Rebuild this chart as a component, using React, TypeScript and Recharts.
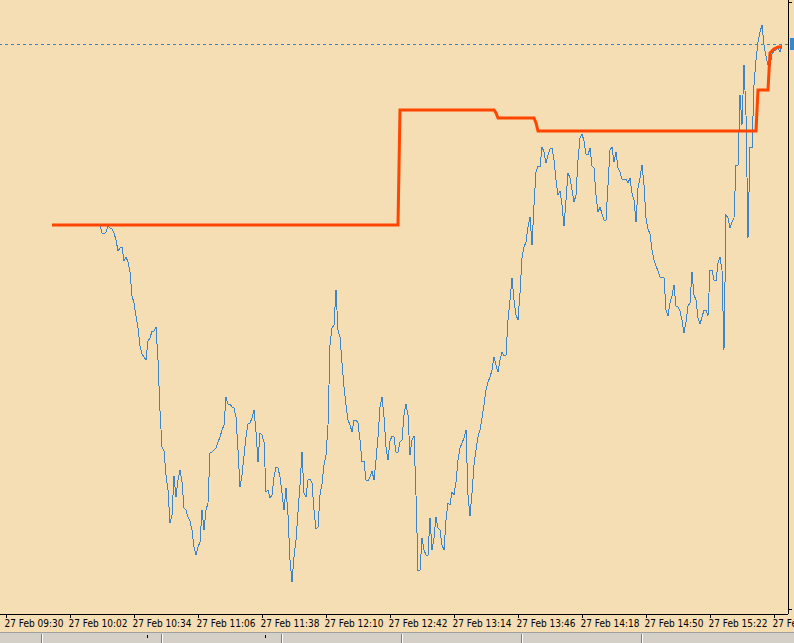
import { LineChart, Line, XAxis, YAxis, ReferenceLine } from "recharts"

// MT4-style M1 chart: close line plus a stepped signal line
const BG = "#F5DEB3"
const CLOSE_COLOR = "#3d85c6"
const SIGNAL_COLOR = "#FF4500"

// x axis: one row per minute since 09:30, a label every 32 minutes
const tickLabels = [
  "27 Feb 09:30", "27 Feb 10:02", "27 Feb 10:34", "27 Feb 11:06", "27 Feb 11:38",
  "27 Feb 12:10", "27 Feb 12:42", "27 Feb 13:14", "27 Feb 13:46", "27 Feb 14:18",
  "27 Feb 14:50", "27 Feb 15:22", "27 Feb 15:54",
]
const tickStep = 32

// close prices (level units), one per minute starting at minute 47
const closeStart = 47
const closeValues = [
  389, 381, 380, 382, 388, 386, 385, 381, 374, 363,
  366, 367, 353, 357, 352, 342, 318, 311, 298, 286,
  268, 260, 257, 254, 273, 276, 283, 283, 287, 254,
  203, 167, 163, 139, 124, 91, 99, 138, 117, 134,
  144, 132, 106, 104, 97, 93, 84, 67, 59, 67,
  72, 104, 84, 104, 111, 161, 162, 164, 166, 172,
  177, 184, 189, 217, 210, 210, 207, 206, 197, 164,
  127, 139, 158, 177, 190, 191, 196, 204, 182, 152,
  181, 179, 172, 122, 124, 116, 119, 137, 147, 146,
  137, 121, 104, 126, 99, 54, 32, 57, 74, 102,
  129, 162, 121, 117, 134, 135, 131, 104, 85, 87,
  119, 130, 149, 159, 189, 269, 286, 289, 324, 284,
  277, 251, 227, 209, 194, 189, 182, 194, 194, 191,
  174, 152, 153, 134, 133, 137, 143, 134, 154, 177,
  207, 217, 197, 167, 154, 173, 178, 177, 162, 162,
  172, 174, 199, 210, 199, 159, 174, 178, 119, 44,
  44, 76, 64, 59, 59, 96, 64, 76, 97, 86,
  84, 69, 64, 94, 111, 109, 122, 119, 132, 154,
  166, 171, 176, 184, 119, 98, 121, 149, 164, 177,
  184, 196, 209, 224, 232, 237, 244, 257, 249, 242,
  254, 262, 258, 259, 294, 314, 336, 314, 299, 294,
  321, 356, 367, 372, 387, 397, 369, 409, 442, 448,
  447, 467, 462, 451, 459, 465, 466, 454, 434, 419,
  423, 409, 388, 414, 441, 436, 424, 412, 419, 454,
  476, 480, 473, 460, 459, 466, 448, 446, 419, 402,
  407, 400, 394, 394, 429, 464, 467, 452, 462, 446,
  442, 435, 434, 435, 431, 436, 421, 414, 392, 426,
  436, 449, 429, 396, 385, 380, 364, 354, 348, 343,
  337, 337, 336, 304, 298, 311, 318, 329, 308, 307,
  303, 294, 281, 292, 308, 311, 342, 319, 314, 296,
  290, 297, 304, 304, 298, 344, 344, 334, 333, 351,
  357, 344, 264, 399, 396, 386, 392, 396, 449, 449,
  519, 489, 549, 499, 376, 467, 466, 529, 554, 572,
  582, 589, 569, 558, 549, 548, 560, 563, 564, 566,
  562, 569,
]

// signal line: level changes (minute where each level starts)
const signalFrom = [23, 197, 245, 246, 265, 266, 376, 382, 383, 384, 385, 386]
const signalLevel = [389, 504, 501, 496, 491, 483, 524, 561, 563, 565, 566, 567]
const signalEnd = 388

const lastPrice = 570

function buildRows() {
  const rows: { m: number; close: number | null; signal: number | null }[] = []
  const last = Math.max(closeStart + closeValues.length - 1, signalEnd)
  for (let m = signalFrom[0]; m <= last; m++) {
    const ci = m - closeStart
    let signal: number | null = null
    if (m <= signalEnd) {
      for (let k = 0; k < signalFrom.length; k++) {
        if (m >= signalFrom[k]) signal = signalLevel[k]
      }
    }
    rows.push({
      m,
      close: ci >= 0 && ci < closeValues.length ? closeValues[ci] : null,
      signal,
    })
  }
  return rows
}

const data = buildRows()
const ticks = tickLabels.map((_, i) => i * tickStep)

const XTick = (props: any) => {
  const { x, y, payload } = props
  const label = tickLabels[Math.round(payload.value / tickStep)]
  return (
    <text
      x={x - 1.5}
      y={y}
      dy="0.72em"
      textAnchor="start"
      fontSize={10}
      fontFamily="'DejaVu Sans Condensed', 'Liberation Sans', Arial, sans-serif"
      fill="#000"
    >
      {label}
    </text>
  )
}

const PriceTag = (props: any) => {
  const vb = props.viewBox || {}
  return <rect x={vb.x + vb.width + 2} y={vb.y - 6} width={6} height={12} fill={CLOSE_COLOR} />
}

const tabSeparators = [41, 161, 281, 401, 521, 641]
const tabMarks = [147, 265]

export default function App() {
  return (
    <div style={{ position: "absolute", left: 0, top: 0, width: 794, height: 643, background: BG, overflow: "hidden" }}>
      <LineChart width={794} height={632} data={data} margin={{ top: 0, right: 0, bottom: 0, left: 0 }}>
        <XAxis
          dataKey="m"
          type="number"
          domain={[-3, 391]}
          ticks={ticks}
          interval={0}
          height={18}
          axisLine={{ stroke: "#000", shapeRendering: "crispEdges" }}
          tickLine={{ stroke: "#000", shapeRendering: "crispEdges" }}
          tickSize={4}
          tick={<XTick />}
        />
        <YAxis
          orientation="right"
          type="number"
          domain={[0, 614]}
          ticks={[5, 612]}
          width={6}
          axisLine={{ stroke: "#000", shapeRendering: "crispEdges" }}
          tickLine={{ stroke: "#000", shapeRendering: "crispEdges" }}
          tickSize={4}
          tick={() => <g />}
        />
        <ReferenceLine
          y={lastPrice}
          stroke={CLOSE_COLOR}
          strokeWidth={1}
          strokeDasharray="3 3"
          shapeRendering="crispEdges"
          label={<PriceTag />}
        />
        <Line
          type="linear"
          dataKey="close"
          stroke={CLOSE_COLOR}
          strokeWidth={1}
          shapeRendering="crispEdges"
          dot={false}
          activeDot={false}
          connectNulls={false}
          isAnimationActive={false}
        />
        <Line
          type="linear"
          dataKey="signal"
          stroke={SIGNAL_COLOR}
          strokeWidth={3}
          dot={false}
          activeDot={false}
          connectNulls={false}
          isAnimationActive={false}
        />
      </LineChart>
      <div
        style={{
          position: "absolute",
          left: 0,
          top: 632,
          width: 794,
          height: 11,
          background: "#d4d0c8",
          borderTop: "1px solid #a0a0a0",
          boxSizing: "border-box",
        }}
      >
        {tabSeparators.map((x) => (
          <div key={x} style={{ position: "absolute", left: x, top: 1, width: 1, height: 10, background: "#808080", borderRight: "1px solid #fff" }} />
        ))}
        {tabMarks.map((x) => (
          <div key={x} style={{ position: "absolute", left: x, top: 2, width: 1, height: 3, background: "#000" }} />
        ))}
      </div>
    </div>
  )
}
